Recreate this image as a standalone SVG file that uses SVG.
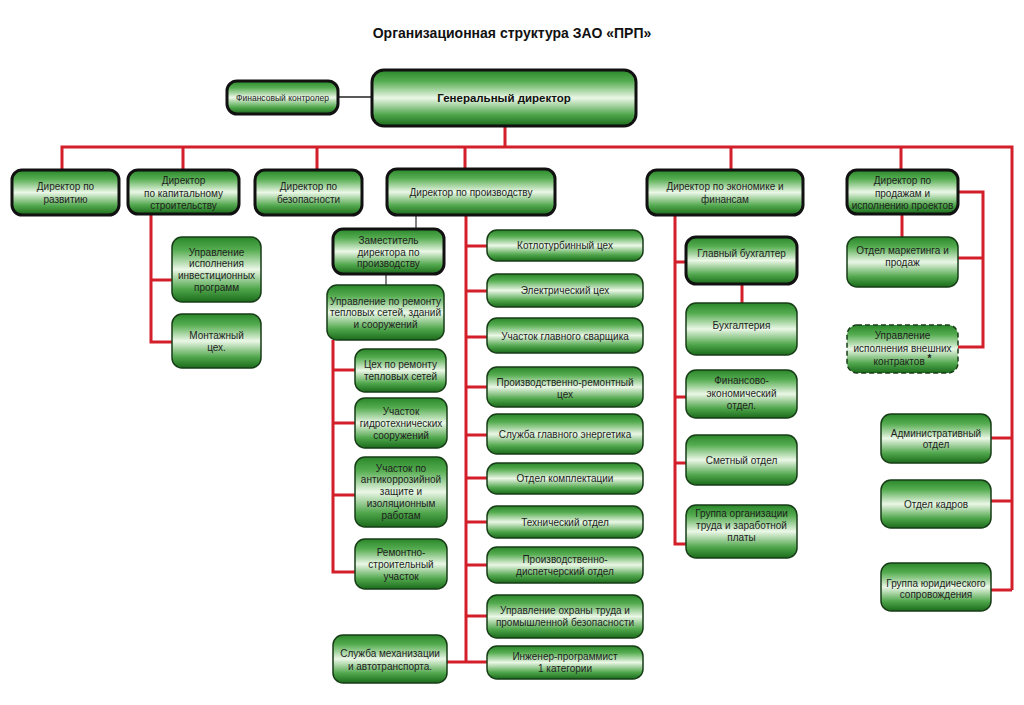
<svg xmlns="http://www.w3.org/2000/svg" width="1024" height="705" viewBox="0 0 1024 705">
<defs>
<linearGradient id="g" x1="0" y1="0" x2="0" y2="1">
<stop offset="0" stop-color="#2a862a"/>
<stop offset="0.2" stop-color="#56ad51"/>
<stop offset="0.5" stop-color="#ebf7e7"/>
<stop offset="0.8" stop-color="#4fa64b"/>
<stop offset="1" stop-color="#1b6b1b"/>
</linearGradient>
</defs>
<style>
.b rect{fill:url(#g);stroke:#173d17;stroke-width:1.5}
.t rect{fill:url(#g);stroke:#111;stroke-width:3}
.d rect{fill:url(#g);stroke:#173d17;stroke-width:1.5;stroke-dasharray:5 3}
text{font-family:"Liberation Sans",Arial,sans-serif;font-size:10px;fill:#1e1e1e;text-anchor:middle}
.r{stroke:#d21f2a;stroke-width:3;fill:none}
.gr{stroke:#555;stroke-width:1.5;fill:none}
.k{stroke:#222;stroke-width:1.5;fill:none}
</style>
<rect width="1024" height="705" fill="#fff"/>
<text x="512" y="38" style="font-size:14px;font-weight:bold;fill:#111">Организационная структура ЗАО «ПРП»</text>

<g id="connectors">
<path class="k" d="M338,97H372"/>
<path class="r" d="M505,126V147M62,170V147H1012V590M183,147V170M317,147V170M465,147V169M731,147V170M901,147V170"/>
<path class="r" d="M991,438H1012M991,501H1012M991,590H1012"/>
<path class="r" d="M958,192H983V347H958M958,258H983M902,214V237"/>
<path class="r" d="M151,214V342H172M151,280H172"/>
<path class="r" d="M466,215V662H447M466,246H487M466,291H487M466,337H487M466,387H487M466,435H487M466,478H487M466,522H487M466,565H487M466,616H487M466,662H487"/>
<path class="r" d="M333,340V572H355M333,370H355M333,423H355M333,495H355"/>
<path class="r" d="M675,215V544H686M675,262H686M675,397H686M675,463H686M742,284V303"/>
<path class="gr" d="M416,215V229M386,274V285"/>
</g>

<g id="gd" class="t"><rect x="372" y="70" width="264" height="56" rx="12"/><text x="504" y="102" style="font-size:11.5px;font-weight:bold;fill:#111">Генеральный директор</text></g>
<g id="fin-control" class="t"><rect x="227" y="81" width="111" height="33" rx="10"/><text x="282.5" y="100.5" style="font-size:8.5px">Финансовый контролер</text></g>

<g id="dir-dev" class="t"><rect x="12" y="170" width="107" height="45" rx="10"/><text x="65.5" y="190">Директор  по</text><text x="65.5" y="203">развитию</text></g>
<g id="dir-cap" class="t"><rect x="128" y="170" width="111" height="44" rx="10"/><text x="183.5" y="184">Директор</text><text x="183.5" y="196.5">по капитальному</text><text x="183.5" y="209">строительству</text></g>
<g id="dir-sec" class="t"><rect x="255" y="170" width="107" height="45" rx="10"/><text x="308.5" y="190">Директор  по</text><text x="308.5" y="203">безопасности</text></g>
<g id="dir-prod" class="t"><rect x="387" y="169" width="168" height="46" rx="10"/><text x="471" y="195.5">Директор по производству</text></g>
<g id="dir-econ" class="t"><rect x="647" y="170" width="156" height="45" rx="10"/><text x="725" y="190">Директор по экономике  и</text><text x="725" y="203">финансам</text></g>
<g id="dir-sales" class="t"><rect x="847" y="170" width="111" height="44" rx="10"/><text x="902.5" y="184">Директор по</text><text x="902.5" y="196.5">продажам и</text><text x="902.5" y="209">исполнению проектов</text></g>

<g id="cap-invest" class="b"><rect x="172" y="237" width="89" height="65" rx="10"/><text x="216.5" y="255.5">Управление</text><text x="216.5" y="267">исполнения</text><text x="216.5" y="279">инвестиционных</text><text x="216.5" y="290.5">программ</text></g>
<g id="cap-mont" class="b"><rect x="172" y="314" width="89" height="54" rx="10"/><text x="216.5" y="338.5">Монтажный</text><text x="216.5" y="351">цех.</text></g>

<g id="deputy" class="t"><rect x="333" y="229" width="111" height="45" rx="10"/><text x="388.5" y="243.5">Заместитель</text><text x="388.5" y="255.5">директора по</text><text x="388.5" y="267">производству</text></g>
<g id="repair-mgmt" class="b"><rect x="327" y="285" width="117" height="55" rx="10"/><text x="385.5" y="304.5">Управление по ремонту</text><text x="385.5" y="316">тепловых сетей, зданий</text><text x="385.5" y="327.5">и сооружений</text></g>
<g id="repair-shop" class="b"><rect x="355" y="349" width="91" height="43" rx="10"/><text x="400.5" y="367.5">Цех по ремонту</text><text x="400.5" y="379.5">тепловых сетей</text></g>
<g id="hydro" class="b"><rect x="355" y="398" width="92" height="50" rx="10"/><text x="401" y="414.5">Участок</text><text x="401" y="426.5">гидротехнических</text><text x="401" y="438.5">сооружений</text></g>
<g id="anticor" class="b"><rect x="355" y="457" width="92" height="70" rx="10"/><text x="401" y="471.5">Участок по</text><text x="401" y="483.3">антикоррозийной</text><text x="401" y="495.1">защите и</text><text x="401" y="506.9">изоляционным</text><text x="401" y="518.7">работам</text></g>
<g id="rem-stroy" class="b"><rect x="355" y="539" width="92" height="50" rx="10"/><text x="401" y="555.5">Ремонтно-</text><text x="401" y="567.5">строительный</text><text x="401" y="579.5">участок</text></g>
<g id="mech" class="b"><rect x="333" y="635" width="114" height="48" rx="10"/><text x="390" y="656.5">Служба механизации</text><text x="390" y="669.5">и автотранспорта.</text></g>

<g id="p1" class="b"><rect x="487" y="230" width="156" height="31" rx="10"/><text x="565" y="248.5">Котлотурбинный цех</text></g>
<g id="p2" class="b"><rect x="487" y="274" width="156" height="33" rx="10"/><text x="565" y="294">Электрический цех</text></g>
<g id="p3" class="b"><rect x="487" y="318" width="156" height="35" rx="10"/><text x="565" y="339.5">Участок главного сварщика</text></g>
<g id="p4" class="b"><rect x="487" y="367" width="156" height="40" rx="10"/><text x="565" y="385.5">Производственно-ремонтный</text><text x="565" y="397.5">цех</text></g>
<g id="p5" class="b"><rect x="487" y="414" width="156" height="40" rx="10"/><text x="565" y="437.5">Служба главного энергетика</text></g>
<g id="p6" class="b"><rect x="487" y="463" width="156" height="31" rx="10"/><text x="565" y="482">Отдел комплектации</text></g>
<g id="p7" class="b"><rect x="487" y="506" width="156" height="32" rx="10"/><text x="565" y="525.5">Технический отдел</text></g>
<g id="p8" class="b"><rect x="487" y="547" width="156" height="36" rx="10"/><text x="565" y="562.5">Производственно-</text><text x="565" y="574.5">диспетчерский отдел</text></g>
<g id="p9" class="b"><rect x="487" y="595" width="156" height="43" rx="10"/><text x="565" y="613.5">Управление охраны труда и</text><text x="565" y="626">промышленной безопасности</text></g>
<g id="p10" class="b"><rect x="487" y="646" width="156" height="33" rx="10"/><text x="565" y="660">Инженер-программист</text><text x="565" y="672">1 категории</text></g>

<g id="chief-acc" class="t"><rect x="686" y="237" width="111" height="47" rx="10"/><text x="741.5" y="257">Главный бухгалтер</text></g>
<g id="acc" class="b"><rect x="686" y="303" width="111" height="52" rx="10"/><text x="741.5" y="329">Бухгалтерия</text></g>
<g id="fin-econ" class="b"><rect x="686" y="370" width="111" height="48" rx="10"/><text x="741.5" y="383.5">Финансово-</text><text x="741.5" y="396.5">экономический</text><text x="741.5" y="408.5">отдел.</text></g>
<g id="smeta" class="b"><rect x="686" y="435" width="111" height="50" rx="10"/><text x="741.5" y="463.5">Сметный отдел</text></g>
<g id="labor" class="b"><rect x="686" y="505" width="111" height="53" rx="10"/><text x="741.5" y="517">Группа организации</text><text x="741.5" y="529">труда и заработной</text><text x="741.5" y="541">платы</text></g>

<g id="marketing" class="b"><rect x="847" y="237" width="111" height="50" rx="10"/><text x="902.5" y="253.5">Отдел маркетинга и</text><text x="902.5" y="265.5">продаж</text></g>
<g id="ext-contracts" class="d"><rect x="847" y="325" width="111" height="48" rx="10"/><text x="902.5" y="338.5">Управление</text><text x="902.5" y="351.5">исполнения внешних</text><text x="902.5" y="364.5">контрактов <tspan font-weight="bold" dy="-3">*</tspan></text></g>

<g id="admin" class="b"><rect x="881" y="414" width="110" height="49" rx="10"/><text x="936" y="436.5">Административный</text><text x="936" y="448">отдел</text></g>
<g id="hr" class="b"><rect x="881" y="480" width="110" height="48" rx="10"/><text x="936" y="507.5">Отдел кадров</text></g>
<g id="legal" class="b"><rect x="881" y="563" width="110" height="48" rx="10"/><text x="936" y="586.5">Группа юридического</text><text x="936" y="598">сопровождения</text></g>
</svg>
